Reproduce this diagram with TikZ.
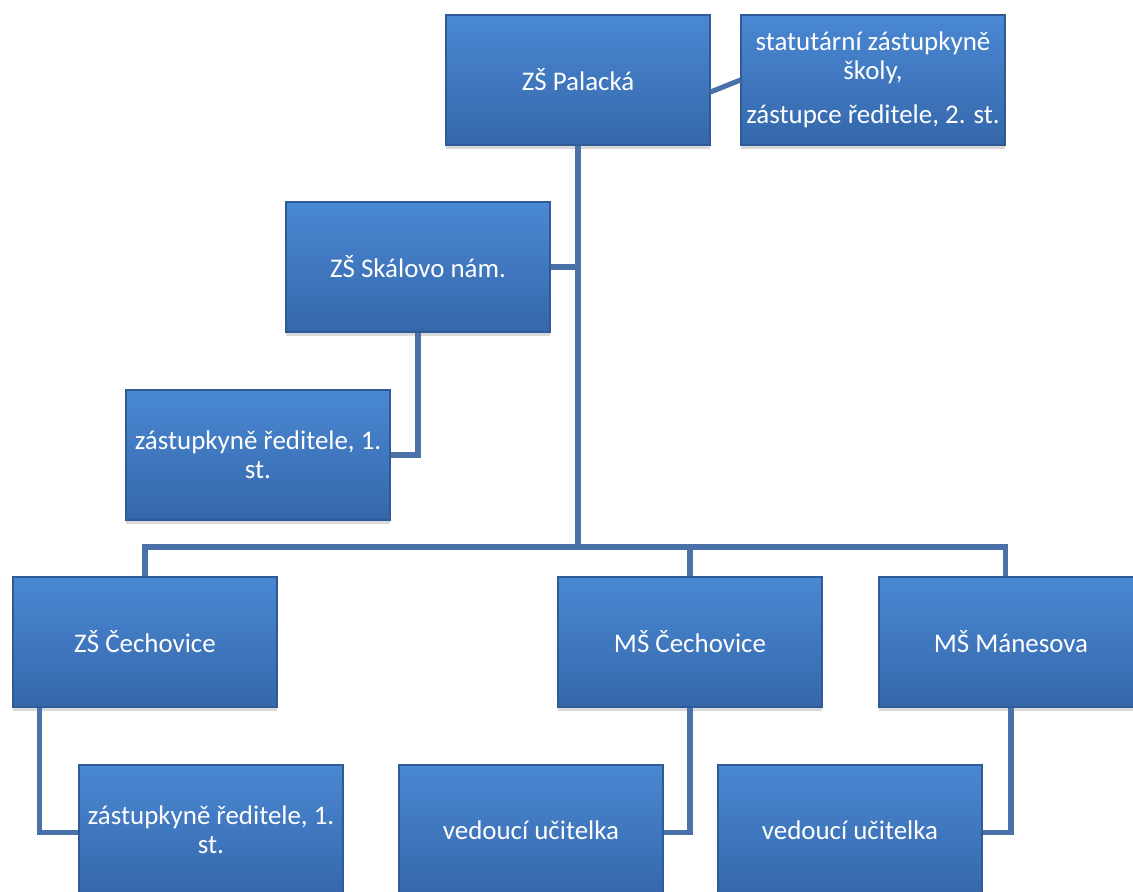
\documentclass[tikz,border=0pt]{standalone}
\usepackage{fontspec}
\setmainfont{Carlito}
\usetikzlibrary{shadows}
\definecolor{BoxTop}{HTML}{4A88D3}
\definecolor{BoxBottom}{HTML}{3567AA}
\definecolor{BoxEdge}{HTML}{2F5C96}
\definecolor{LinkBlue}{HTML}{4A72A8}

\begin{document}
\begin{tikzpicture}[x=0.75pt,y=-0.75pt,
  unit/.style={rectangle,top color=BoxTop,bottom color=BoxBottom,draw=BoxEdge,line width=0.8pt,
    minimum width=198pt,minimum height=97.5pt,inner sep=0pt,align=center,text=white,
    font=\fontsize{20.2}{22}\selectfont,
    drop shadow={opacity=0.3,shadow xshift=0pt,shadow yshift=-3pt}},
  link/.style={draw=LinkBlue,line width=3.8pt}]
\useasboundingbox (0,0) rectangle (1133,892);
\node[unit] (pal) at (578,80) {ZŠ Palacká};
\node[unit] (stat) at (873,80) {statutární zástupkyně\\školy,\\[11pt]zástupce ředitele, 2. st.};
\node[unit] (skal) at (418,267) {ZŠ Skálovo nám.};
\node[unit] (zast1) at (258,455) {zástupkyně ředitele, 1.\\st.};
\node[unit] (zsc) at (145,642) {ZŠ Čechovice};
\node[unit] (msc) at (690,642) {MŠ Čechovice};
\node[unit] (msm) at (1011,642) {MŠ Mánesova};
\node[unit] (zast2) at (211,830) {zástupkyně ředitele, 1.\\st.};
\node[unit] (ved1) at (531,830) {vedoucí učitelka};
\node[unit] (ved2) at (850,830) {vedoucí učitelka};
\coordinate (hub) at (578,547);
\draw[link] ([yshift=-9pt]pal.east) -- (stat.west);
\draw[link] (pal.south) -- (hub);
\draw[link] (skal.east) -- (skal.east -| hub);
\draw[link] (skal.south) |- (zast1.east);
\draw[link] (zsc.north) |- (hub) -| ([xshift=-4pt]msm.north);
\draw[link] (msc.north) -- (msc.north |- hub);
\draw[link] ([xshift=-79pt]zsc.south) |- ([yshift=-2pt]zast2.west);
\draw[link] (msc.south) |- ([yshift=-2pt]ved1.east);
\draw[link] (msm.south) |- ([yshift=-2pt]ved2.east);
\end{tikzpicture}
\end{document}
